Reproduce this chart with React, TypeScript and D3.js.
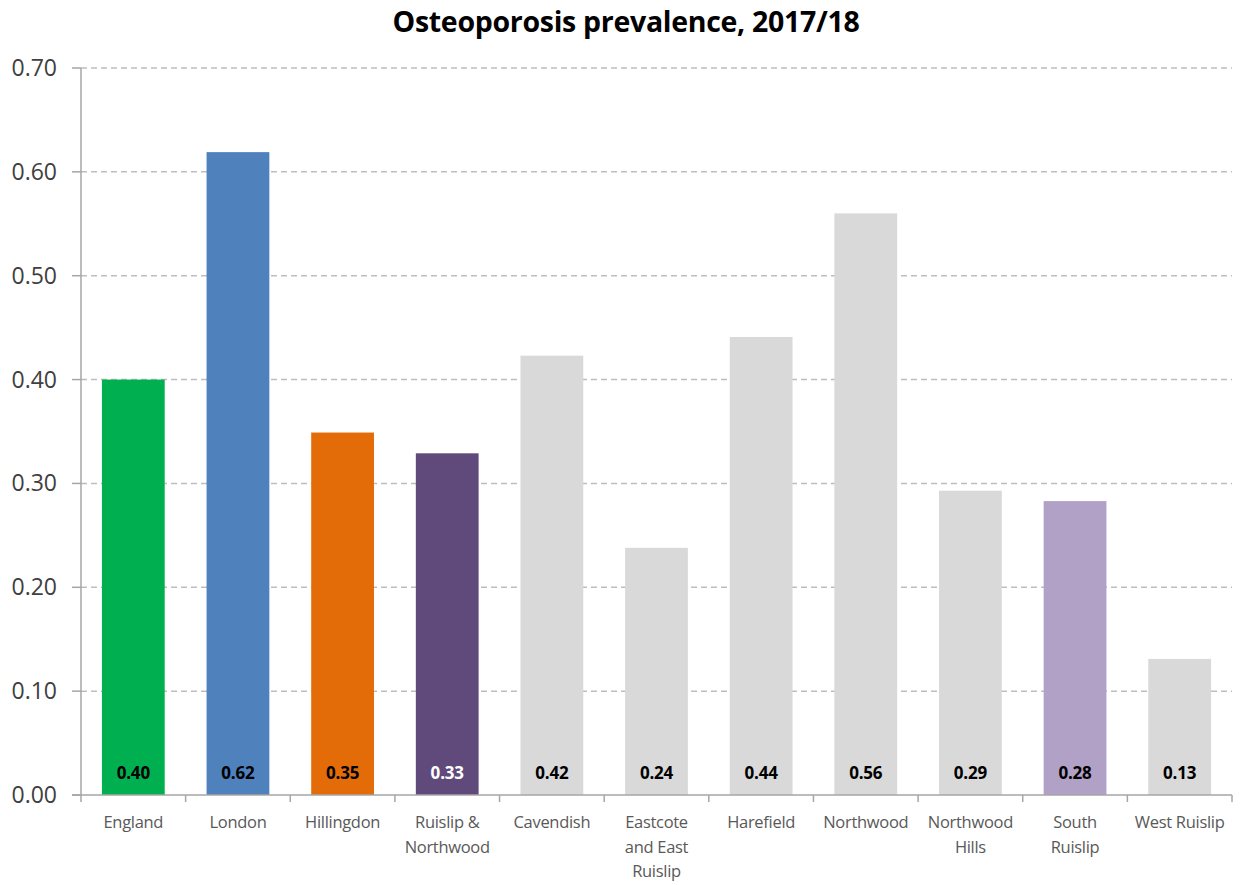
import React from "react";
import * as d3 from "d3";

const categories = [
  "England",
  "London",
  "Hillingdon",
  "Ruislip & Northwood",
  "Cavendish",
  "Eastcote and East Ruislip",
  "Harefield",
  "Northwood",
  "Northwood Hills",
  "South Ruislip",
  "West Ruislip",
];
const categoryLines = [
  ["England"],
  ["London"],
  ["Hillingdon"],
  ["Ruislip &", "Northwood"],
  ["Cavendish"],
  ["Eastcote", "and East", "Ruislip"],
  ["Harefield"],
  ["Northwood"],
  ["Northwood", "Hills"],
  ["South", "Ruislip"],
  ["West Ruislip"],
];
const values = [0.4, 0.619, 0.349, 0.329, 0.423, 0.238, 0.441, 0.56, 0.293, 0.283, 0.131];
const barColors = [
  "#00B050",
  "#4F81BD",
  "#E36C09",
  "#604A7B",
  "#D9D9D9",
  "#D9D9D9",
  "#D9D9D9",
  "#D9D9D9",
  "#D9D9D9",
  "#B2A1C7",
  "#D9D9D9",
];
const labelColors = ["#000", "#000", "#000", "#fff", "#000", "#000", "#000", "#000", "#000", "#000", "#000"];
const yTicks = [0, 0.1, 0.2, 0.3, 0.4, 0.5, 0.6, 0.7];
const title = "Osteoporosis prevalence, 2017/18";

const W = 1244;
const H = 885;
const left = 81;
const right = 1232;
const top = 68;
const bottom = 795;
const font = "'Open Sans', 'Noto Sans', sans-serif";

export default function App() {
  const x = d3.scaleBand<string>().domain(categories).range([left, right]).paddingInner(0.4).paddingOuter(0.2);
  const y = d3.scaleLinear().domain([0, 0.7]).range([bottom, top]);
  const step = x.step();
  const fmt = d3.format(".2f");

  return (
    <svg
      width={W}
      height={H}
      style={{ position: "absolute", left: 0, top: 0, display: "block", background: "#fff" }}
    >
      <text
        x={626}
        y={32}
        textAnchor="middle"
        fontFamily={font}
        fontWeight="bold"
        fontSize={28.5}
        fill="#000"
        letterSpacing={-0.3}
      >
        {title}
      </text>

      {yTicks.map((t) => (
        <g key={t}>
          {t > 0 && (
            <line
              x1={left}
              x2={right}
              y1={y(t)}
              y2={y(t)}
              stroke="#BDBDBD"
              strokeWidth={1.5}
              strokeDasharray="6 4"
            />
          )}
          <line x1={72} x2={left} y1={y(t)} y2={y(t)} stroke="#A6A6A6" strokeWidth={1.5} />
          <text
            x={57}
            y={y(t) + 8}
            textAnchor="end"
            fontFamily={font}
            fontSize={23}
            fill="#404040"
          >
            {fmt(t)}
          </text>
        </g>
      ))}

      {categories.map((c, i) => (
        <rect
          key={c}
          x={x(c)}
          y={y(values[i])}
          width={x.bandwidth()}
          height={bottom - y(values[i])}
          fill={barColors[i]}
        />
      ))}

      <line x1={left} x2={left} y1={top} y2={bottom} stroke="#A6A6A6" strokeWidth={1.5} />
      <line x1={72} x2={right} y1={bottom} y2={bottom} stroke="#A6A6A6" strokeWidth={1.5} />
      {d3.range(categories.length + 1).map((i) => (
        <line
          key={i}
          x1={left + i * step}
          x2={left + i * step}
          y1={bottom}
          y2={bottom + 7}
          stroke="#A6A6A6"
          strokeWidth={1.5}
        />
      ))}

      {categories.map((c, i) => (
        <text
          key={c}
          x={(x(c) as number) + x.bandwidth() / 2}
          y={779}
          textAnchor="middle"
          fontFamily={font}
          fontWeight="bold"
          fontSize={17}
          fill={labelColors[i]}
          letterSpacing={-0.2}
        >
          {fmt(values[i])}
        </text>
      ))}

      {categories.map((c, i) => (
        <text
          key={c}
          x={(x(c) as number) + x.bandwidth() / 2}
          y={828}
          textAnchor="middle"
          fontFamily={font}
          fontSize={16.5}
          fill="#595959"
          letterSpacing={-0.3}
        >
          {categoryLines[i].map((ln, j) => (
            <tspan key={j} x={(x(c) as number) + x.bandwidth() / 2} dy={j === 0 ? 0 : 24.5}>
              {ln}
            </tspan>
          ))}
        </text>
      ))}
    </svg>
  );
}
